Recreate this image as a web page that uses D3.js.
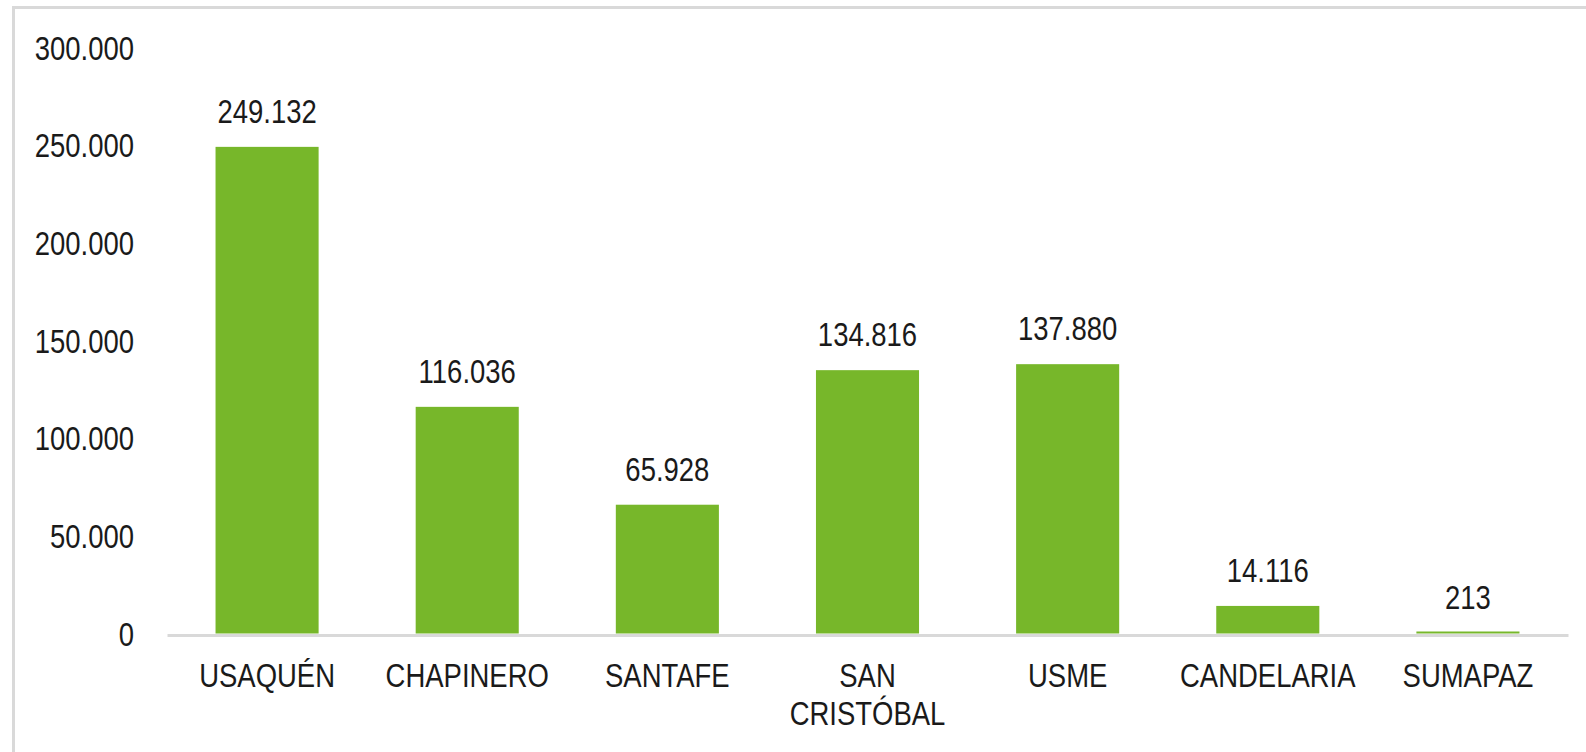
<!DOCTYPE html>
<html>
<head>
<meta charset="utf-8">
<script src="https://cdn.jsdelivr.net/npm/d3@7"></script>
<style>
  html, body { margin: 0; padding: 0; background: #fff; }
  svg { display: block; }
  text { font-family: "Liberation Sans", Arial, sans-serif; fill: #1a1a1a; }
</style>
</head>
<body>
<svg id="chart" width="1586" height="752"></svg>
<script>
const categories = ["USAQUÉN", "CHAPINERO", "SANTAFE", "SAN CRISTÓBAL", "USME", "CANDELARIA", "SUMAPAZ"];
const categoryLines = [["USAQUÉN"], ["CHAPINERO"], ["SANTAFE"], ["SAN", "CRISTÓBAL"], ["USME"], ["CANDELARIA"], ["SUMAPAZ"]];
const values = [249132, 116036, 65928, 134816, 137880, 14116, 213];
const valueLabels = ["249.132", "116.036", "65.928", "134.816", "137.880", "14.116", "213"];
const yTicks = [0, 50000, 100000, 150000, 200000, 250000, 300000];
const yTickLabels = ["0", "50.000", "100.000", "150.000", "200.000", "250.000", "300.000"];

const svg = d3.select("#chart");
const W = 1586, H = 752;
const fontSize = 33.5;
const narrow = 0.82;

// helper: condensed text placed at (px, py)
function narrowText(parent, px, py, anchor) {
  return parent.append("g")
    .attr("transform", `translate(${px},${py}) scale(${narrow},1)`)
    .append("text")
    .attr("x", 0).attr("y", 0)
    .attr("text-anchor", anchor)
    .attr("font-size", fontSize);
}

// outer frame (only top and left visible)
svg.append("rect")
  .attr("x", 13.5).attr("y", 7.5)
  .attr("width", W + 20).attr("height", H + 20)
  .attr("fill", "none").attr("stroke", "#d9d9d9").attr("stroke-width", 3);

const x = d3.scaleBand()
  .domain(categories)
  .range([167, 1568])
  .paddingInner(0.485)
  .paddingOuter(0.2425);

const y = d3.scaleLinear()
  .domain([0, 300000])
  .range([633.5, 47.5]);

// baseline (drawn first, just below bars)
const xAxis = d3.axisBottom(x).tickSize(0).tickFormat("");
const xg = svg.append("g").attr("transform", `translate(0,${y(0) + 1.5})`).call(xAxis);
xg.select(".domain").attr("stroke", "#d9d9d9").attr("stroke-width", 3);
xg.selectAll(".tick").remove();

// y axis labels
const yG = svg.append("g");
yTicks.forEach((v, i) => {
  narrowText(yG, 134, y(v), "end")
    .attr("dy", "0.36em")
    .text(yTickLabels[i]);
});

// bars
svg.append("g").selectAll("rect")
  .data(values)
  .join("rect")
  .attr("x", (d, i) => x(categories[i]))
  .attr("width", x.bandwidth())
  .attr("y", d => Math.min(y(d), y(0) - 2))
  .attr("height", d => Math.max(2, y(0) - y(d)))
  .attr("fill", "#77b72a");

// category labels
const catG = svg.append("g");
categoryLines.forEach((lines, i) => {
  const t = narrowText(catG, x(categories[i]) + x.bandwidth() / 2, 687, "middle");
  lines.forEach((ln, j) => {
    t.append("tspan")
      .attr("x", 0)
      .attr("dy", j === 0 ? 0 : 38)
      .text(ln);
  });
});

// value labels
const valG = svg.append("g");
values.forEach((v, i) => {
  narrowText(valG, x(categories[i]) + x.bandwidth() / 2, y(v) - 24, "middle")
    .text(valueLabels[i]);
});
</script>
</body>
</html>
